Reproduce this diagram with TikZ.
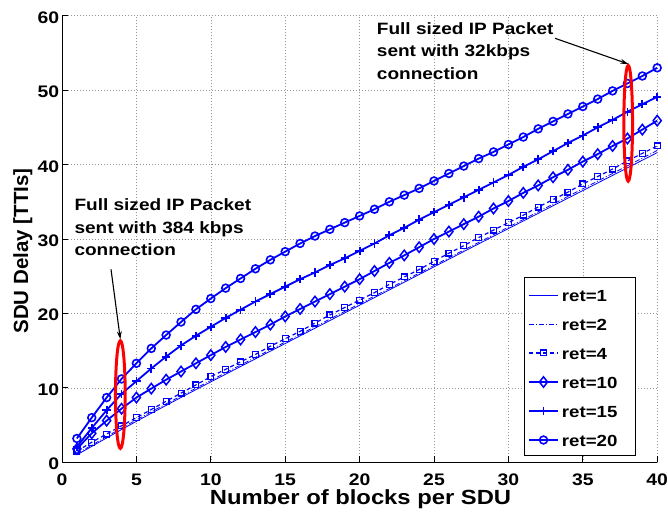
\documentclass[tikz,border=0pt]{standalone}
\usepackage{fontspec}
\setmainfont{Liberation Sans}
\usetikzlibrary{plotmarks,shapes.geometric,arrows.meta}
\definecolor{mblue}{RGB}{0,0,255}
\definecolor{mred}{RGB}{255,0,0}
\definecolor{gridgray}{RGB}{150,150,150}

\tikzset{
  gridline/.style={gridgray, line width=0.6pt, dash pattern=on 0.8pt off 2.2pt},
  axisline/.style={black, line width=0.9pt},
  ticklabel/.style={inner sep=0pt, xscale=1.16, font=\fontsize{16.7}{20}\selectfont\bfseries},
  axlabel/.style={inner sep=0pt, font=\fontsize{20.5}{24}\selectfont\bfseries},
  annot/.style={inner sep=0pt, anchor=base west, xscale=1.16, font=\fontsize{16.4}{20}\selectfont\bfseries},
  legtext/.style={inner sep=0pt, anchor=base west, xscale=1.16, font=\fontsize{16.1}{20}\selectfont\bfseries},
  ret1/.style={mblue, line width=0.8pt},
  ret2/.style={mblue, line width=0.8pt, dash pattern=on 5pt off 2pt on 1pt off 2pt},
  ret4/.style={mblue, line width=1.2pt, dash pattern=on 4pt off 3pt, mark=square, mark size=2.9pt, mark options={solid}},
  ret10/.style={mblue, line width=1.8pt, mark=diamond, mark size=4pt, mark options={solid, xscale=1.35, yscale=1.3, line width=1.5pt}},
  ret15/.style={mblue, line width=1.8pt, mark=+, mark size=4.2pt, mark options={solid}},
  ret20/.style={mblue, line width=1.8pt, mark=o, mark size=3.9pt, mark options={solid, line width=1.6pt}},
  ring/.style={ellipse, draw=mred, line width=3pt, inner sep=0pt},
  pointer/.style={black, line width=1.1pt, -{Stealth[length=8pt, width=5pt]}}
}

\begin{document}
\begin{tikzpicture}[x=1pt, y=1pt]
\useasboundingbox (0,0) rectangle (668,511);

% plotting frame: x from 0 to 40, y from 0 to 60
\begin{scope}[shift={(62,48.7)}, x=14.88pt, y=7.443pt]
  % grid
  \foreach \gx in {5,10,...,40} \draw[gridline] (\gx,0) -- (\gx,60);
  \foreach \gy in {10,20,...,60} \draw[gridline] (0,\gy) -- (40,\gy);

  % curves
  \draw[ret1] plot[smooth] coordinates {(1,1.0)(5,5.5)(10,10.8)(20,21.1)(30,31.4)(40,41.6)};
  \draw[ret2] plot[smooth] coordinates {(1,1.15)(5,5.7)(10,11.0)(20,21.3)(30,31.6)(40,41.9)};
  \draw[ret4] plot coordinates {(1,1.5)(2,2.7)(3,3.8)(4,4.9)(5,6.0)(6,7.1)(7,8.2)(8,9.3)(9,10.4)(10,11.5)(11,12.5)(12,13.5)(13,14.5)(14,15.6)(15,16.6)(16,17.6)(17,18.7)(18,19.8)(19,20.8)(20,21.8)(21,22.8)(22,23.9)(23,24.9)(24,25.9)(25,27.0)(26,28.1)(27,29.1)(28,30.2)(29,31.2)(30,32.2)(31,33.2)(32,34.3)(33,35.3)(34,36.3)(35,37.4)(36,38.4)(37,39.4)(38,40.5)(39,41.5)(40,42.5)};
  \draw[ret10] plot coordinates {(1,1.8)(2,3.9)(3,5.6)(4,7.2)(5,8.7)(6,9.9)(7,11.1)(8,12.2)(9,13.3)(10,14.4)(11,15.5)(12,16.5)(13,17.5)(14,18.5)(15,19.6)(16,20.6)(17,21.6)(18,22.6)(19,23.6)(20,24.6)(21,25.7)(22,26.8)(23,27.8)(24,28.9)(25,30.0)(26,31.0)(27,32.0)(28,33.0)(29,34.1)(30,35.1)(31,36.2)(32,37.2)(33,38.3)(34,39.3)(35,40.4)(36,41.4)(37,42.5)(38,43.5)(39,44.7)(40,45.9)};
  \draw[ret15] plot coordinates {(1,2.1)(2,4.6)(3,7.0)(4,9.2)(5,10.9)(6,12.6)(7,14.2)(8,15.7)(9,17.0)(10,18.2)(11,19.4)(12,20.5)(13,21.6)(14,22.6)(15,23.6)(16,24.6)(17,25.5)(18,26.5)(19,27.4)(20,28.4)(21,29.4)(22,30.5)(23,31.5)(24,32.6)(25,33.6)(26,34.6)(27,35.6)(28,36.6)(29,37.6)(30,38.6)(31,39.7)(32,40.7)(33,41.8)(34,42.9)(35,43.9)(36,45.0)(37,46.0)(38,47.1)(39,48.1)(40,49.1)};
  \draw[ret20] plot coordinates {(1,3.2)(2,6.0)(3,8.7)(4,11.2)(5,13.3)(6,15.3)(7,17.1)(8,18.85)(9,20.55)(10,22.0)(11,23.4)(12,24.7)(13,26.0)(14,27.2)(15,28.3)(16,29.4)(17,30.4)(18,31.3)(19,32.2)(20,33.1)(21,34.0)(22,35.0)(23,35.9)(24,36.8)(25,37.8)(26,38.8)(27,39.8)(28,40.8)(29,41.7)(30,42.7)(31,43.7)(32,44.8)(33,45.8)(34,46.8)(35,47.8)(36,48.8)(37,49.9)(38,50.9)(39,51.9)(40,53.0)};

  % axes and ticks
  \draw[axisline] (0,60) -- (0,0) -- (40,0);
  \foreach \gx in {0,5,...,40} {
    \draw[axisline] (\gx,0) -- ++(0,6pt);
    \node[ticklabel, anchor=base] (xt\gx) at ([yshift=-22.7pt]\gx,0) {\gx};
  }
  \foreach \gy in {0,10,...,60} {
    \draw[axisline] (0,\gy) -- ++(6pt,0);
    \node[ticklabel, anchor=base east] (yt\gy) at ([xshift=-2.5pt,yshift=-7.5pt]0,\gy) {\gy};
  }

  % highlighted sample groups
  \node[ring, minimum width=9.7pt, minimum height=107.7pt] (ringA) at (3.92,9.1) {};
  \node[ring, minimum width=8.7pt, minimum height=115.7pt] (ringB) at (38.05,45.55) {};
\end{scope}

% axis titles
\node[axlabel, anchor=base, xscale=1.16] (xlab) at (360.5,7) {Number of blocks per SDU};
\node[axlabel, anchor=base, rotate=90] (ylab) at (28,260) {SDU Delay [TTIs]};

% annotations
\node[annot] (la1) at (74.3,300.3) {Full sized IP Packet};
\node[annot] (la2) at (74.3,277.8) {sent with 384 kbps};
\node[annot] (la3) at (74.3,255.3) {connection};
\node[annot] (ra1) at (376.7,476.7) {Full sized IP Packet};
\node[annot] (ra2) at (376.7,454.2) {sent with 32kbps};
\node[annot] (ra3) at (376.7,431.7) {connection};
\coordinate (pa) at (111,241.7);
\coordinate (pb) at (555,472.7);
\draw[pointer] (pa) -- (ringA.north);
\draw[pointer] (pb) -- (ringB.north);

% legend
\node[draw=black, fill=white, line width=0.9pt, minimum width=111.6pt, minimum height=177.7pt, inner sep=0pt, anchor=north west] (legbox) at (523.7,233.7) {};
\draw[ret1] (529.3,216) -- (557.7,216);
\node[legtext] (lg1) at (561.7,209.8) {ret=1};
\draw[ret2] (529.3,187) -- (557.7,187);
\node[legtext] (lg2) at (561.7,180.8) {ret=2};
\draw[ret4] plot[mark indices={2}] coordinates {(529.3,158)(543.5,158)(557.7,158)};
\node[legtext] (lg3) at (561.7,151.8) {ret=4};
\draw[ret10] plot[mark indices={2}] coordinates {(529.3,129)(543.5,129)(557.7,129)};
\node[legtext] (lg4) at (561.7,122.8) {ret=10};
\draw[ret15] plot[mark indices={2}] coordinates {(529.3,100)(543.5,100)(557.7,100)};
\node[legtext] (lg5) at (561.7,93.8) {ret=15};
\draw[ret20] plot[mark indices={2}] coordinates {(529.3,71)(543.5,71)(557.7,71)};
\node[legtext] (lg6) at (561.7,64.8) {ret=20};
\end{tikzpicture}
\end{document}
